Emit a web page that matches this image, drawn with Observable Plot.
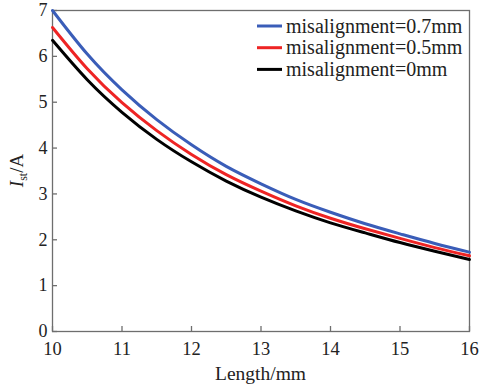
<!DOCTYPE html>
<html><head><meta charset="utf-8">
<script src="https://cdn.jsdelivr.net/npm/d3@7"></script>
<script src="https://cdn.jsdelivr.net/npm/@observablehq/plot@0.6"></script>
<style>body{margin:0;background:#fff;} svg{display:block;} svg text{font-family:"Liberation Serif","Times New Roman",serif !important;}</style>
</head><body><div id="chart"></div>
<script>
const lengths = [10, 10.5, 11, 11.5, 12, 12.5, 13, 13.5, 14, 14.5, 15, 15.5, 16];
const mis07 = [7.00, 6.05, 5.27, 4.62, 4.07, 3.60, 3.22, 2.88, 2.60, 2.35, 2.13, 1.92, 1.73];
const mis05 = [6.63, 5.73, 4.99, 4.38, 3.86, 3.42, 3.06, 2.74, 2.47, 2.24, 2.03, 1.83, 1.65];
const mis00 = [6.35, 5.49, 4.78, 4.19, 3.70, 3.28, 2.93, 2.63, 2.37, 2.15, 1.94, 1.75, 1.57];
const seriesNames = ["misalignment=0.7mm", "misalignment=0.5mm", "misalignment=0mm"];
const seriesColors = ["#3a5db8", "#ee2424", "#000000"];
const xTicks = [10, 11, 12, 13, 14, 15, 16];
const yTicks = [0, 1, 2, 3, 4, 5, 6, 7];

const allSeries = [mis07, mis05, mis00];
const rows = allSeries.flatMap((vals, i) => vals.map((v, j) => ({x: lengths[j], y: v, s: seriesNames[i]})));

const W = 479, H = 388;
const mL = 52, mR = 10, mT = 10, mB = 57;
const grey = "#6e6e6e";
const font = "'Liberation Serif', 'Times New Roman', serif";

const plot = Plot.plot({
  width: W, height: H,
  marginLeft: mL, marginRight: mR, marginTop: mT, marginBottom: mB,
  style: {fontFamily: font, fontSize: "18.5px", color: "#222", background: "#fff"},
  x: {domain: [10, 16]},
  y: {domain: [0, 7]},
  color: {domain: seriesNames, range: seriesColors},
  marks: [
    Plot.frame({stroke: grey, strokeWidth: 1.3}),
    Plot.axisX(xTicks, {tickSize: -5, tickPadding: 15, stroke: grey, strokeWidth: 1.3, fill: "#222", label: null, fontSize: 18.5}),
    Plot.axisY(yTicks, {tickSize: -5, tickPadding: 10, stroke: grey, strokeWidth: 1.3, fill: "#222", label: null, fontSize: 18}),
    Plot.line(rows, {x: "x", y: "y", z: "s", stroke: "s", strokeWidth: 3, curve: "natural"})
  ]
});
document.getElementById("chart").appendChild(plot);

const svg = d3.select(plot);
// x label
svg.append("text").attr("x", (mL + W - mR) / 2).attr("y", 380)
  .attr("text-anchor", "middle").attr("font-size", 19.5).attr("fill", "#222")
  .text("Length/mm");
// y label
const yl = svg.append("text").attr("transform", `translate(23,${(mT + H - mB) / 2}) rotate(-90)`)
  .attr("text-anchor", "middle").attr("font-size", 19).attr("fill", "#222");
yl.append("tspan").attr("font-style", "italic").text("I");
yl.append("tspan").attr("font-size", 12).attr("dy", 4).text("st");
yl.append("tspan").attr("dy", -4).text("/A");
// legend
const lg = svg.append("g");
seriesNames.forEach((name, i) => {
  const yy = 26 + i * 21.7;
  lg.append("line").attr("x1", 257).attr("x2", 282).attr("y1", yy).attr("y2", yy)
    .attr("stroke", seriesColors[i]).attr("stroke-width", 3);
  lg.append("text").attr("x", 286).attr("y", yy).attr("dy", "0.33em").attr("text-anchor", "start")
    .attr("font-size", 20).attr("fill", "#222").text(name);
});
</script>
</body></html>
